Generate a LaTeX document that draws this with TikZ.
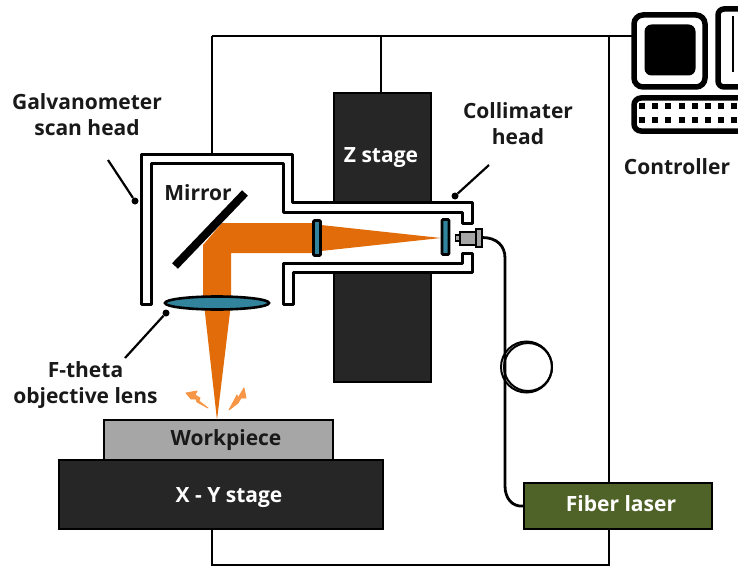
\documentclass[tikz,border=0pt]{standalone}
\usepackage{fontspec}
\setmainfont{Open Sans}
\definecolor{beam}{HTML}{E36C0A}
\definecolor{spark}{HTML}{F79646}
\definecolor{glass}{HTML}{31849B}
\definecolor{dark}{HTML}{262626}
\definecolor{laser}{HTML}{4F6228}
\definecolor{work}{HTML}{A6A6A6}
\tikzset{
  lbl/.style={font=\fontsize{21}{26}\selectfont\bfseries,inner sep=0pt,align=center,text=black!90},
  wlbl/.style={lbl,text=white},
  stagebox/.style={draw=black,line width=2pt,fill=dark,inner sep=0pt},
  wire/.style={line width=2.8pt,draw=black},
  housing/.style={draw=black,line width=3pt,fill=white,line join=round},
  optic/.style={draw=black,line width=2.6pt,fill=glass,rounded corners=1pt},
  leader/.style={line width=2.2pt,draw=black},
  tipdot/.style={circle,fill=black,inner sep=0pt,minimum size=7pt},
  sparkshape/.style={fill=spark,draw=spark,line width=0.9pt,line join=round}
}
\newcommand{\pbox}[6][]{\node[minimum width=#4pt-#3pt,minimum height=#6pt-#5pt,anchor=north west,#1] (#2) at (#3,#5) {};}
\begin{document}
\begin{tikzpicture}[x=1pt,y=-1pt]
\useasboundingbox (0,0) rectangle (738,567);
% frame coordinates
\coordinate (tl) at (212,36);
\coordinate (tz) at (381,36);
\coordinate (tc) at (609,36);
\coordinate (tr) at (634,36);
\coordinate (bl) at (212,565);
\coordinate (bc) at (609,565);
% stages
\pbox[stagebox]{zst}{333}{430}{92}{381}
\pbox[stagebox]{xyst}{58}{382}{459}{528}
\pbox[draw=black,line width=2pt,fill=work]{wp}{103}{332}{419}{459}
% controller
\draw[line width=5.5pt,draw=black,fill=white,rounded corners=9pt] (634,15) rectangle (705,87);
\node[fill=black,rounded corners=7pt,minimum width=51pt,minimum height=51pt,inner sep=0pt] (screen) at (670,50) {};
\draw[line width=5.5pt,draw=black,fill=white,rounded corners=6pt] (718,9) rectangle (760,87);
\draw[line width=2pt] (733,16) -- (733,72);
\draw[line width=5.5pt,draw=black,fill=white,rounded corners=7pt] (634,98) rectangle (760,131);
\foreach \i in {0,...,7}{
  \fill[black] (639+\i*13.2,103) rectangle +(6,6);
  \fill[black] (639+\i*13.2,117) rectangle +(6,6);
}
% frame wires
\draw[wire] (tl) -- (tr);
\draw[wire] (tz) -- (tz |- zst.north);
\draw[wire] (tl) -- (212,154);
\draw[wire] (tc) -- (bc) -- (bl) -- (212,528);
\pbox[draw=black,line width=2pt,fill=laser]{flb}{523}{711}{482}{528}
% housing
\fill[white] (283,212) rectangle (464,263);
\draw[housing] (141,304) -- (141,154) -- (292,154) -- (292,202) -- (472,202) -- (472,223) -- (462,223) -- (462,212) -- (283,212) -- (283,163) -- (151,163) -- (151,304) -- cycle;
\draw[housing] (283,304) -- (283,263) -- (462,263) -- (462,253) -- (472,253) -- (472,272) -- (293,272) -- (293,304) -- cycle;
% beam
\fill[beam] (313,223) -- (222,223) -- (203,245) -- (203,304) -- (231,304) -- (231,253) -- (313,253) -- cycle;
\fill[beam] (204,304) -- (231,304) -- (217,420) -- cycle;
\fill[beam] (321,225) -- (321,251) -- (441,238) -- cycle;
% mirror
\draw[line width=8pt,draw=black] (245,193) -- (175,266);
% optics
\draw[draw=black,line width=2.6pt,fill=glass] (217,303) ellipse (52 and 6.5);
\draw[optic] (313.5,220.5) rectangle (320.5,255.5);
\draw[optic] (442,219.5) rectangle (449,254.5);
% fibre connector
\draw[draw=black,line width=1.8pt,fill=work] (455.5,235) rectangle (460,241);
\draw[draw=black,line width=1.8pt,fill=work] (460,232) rectangle (476,245);
\draw[draw=black,line width=1.8pt,fill=work] (476,229) rectangle (482,247);
% fibre
\draw[wire] (482,237.5) .. controls (497,237.5) and (505,246) .. (505,258) -- (505,486) .. controls (505,498) and (512,507) .. (flb.west);
\draw[line width=2pt] (526.5,367) circle (25.5);
\draw[line width=2pt] (528,367) circle (24);
% sparks
\draw[sparkshape] (186,393) -- (197,391) -- (195,395) -- (200,398) -- (199,401) -- (208,408) -- (197,402) -- (196,399) -- (191,399) -- cycle;
\draw[sparkshape] (229,410) -- (237,395) -- (238,398) -- (244,388) -- (246,398) -- (241,398) -- (238,403) -- cycle;
% labels
\node[lbl] (t1) at (87,115) {Galvanometer\\scan head};
\node[lbl] (t2) at (518,124) {Collimater\\head};
\node[wlbl] (t3) at (381,158) {Z stage};
\node[lbl] (t4) at (198,193) {Mirror};
\node[lbl] (t5) at (85.5,385) {F-theta\\objective lens};
\node[lbl] (t6) at (226,440) {Workpiece};
\node[wlbl] (t7) at (229,498) {X - Y stage};
\node[wlbl] (t8) at (621,504) {Fiber laser};
\node[lbl] (t9) at (677,167) {Controller};
% leaders
\node[tipdot] (d1) at (135,201) {};
\node[tipdot] (d2) at (455,196) {};
\node[tipdot] (d3) at (166,313) {};
\coordinate (s1) at (108,160);
\coordinate (s2) at (489,165);
\coordinate (s3) at (125,358);
\draw[leader] (s1) -- (d1);
\draw[leader] (s2) -- (d2);
\draw[leader] (s3) -- (d3);
\end{tikzpicture}
\end{document}
